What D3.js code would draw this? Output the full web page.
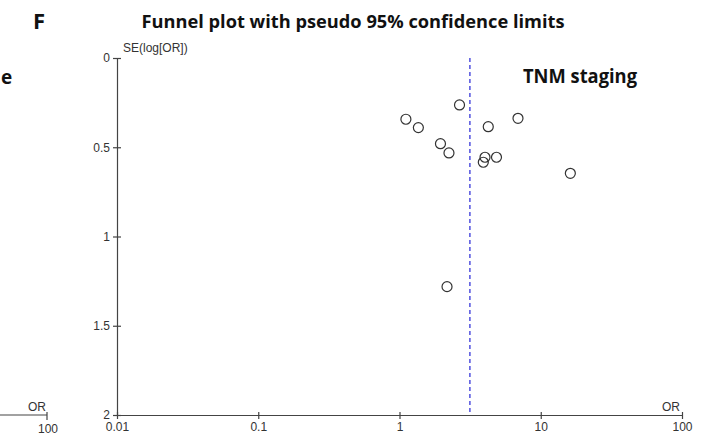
<!DOCTYPE html>
<html>
<head>
<meta charset="utf-8">
<script src="https://cdn.jsdelivr.net/npm/d3@7/dist/d3.min.js"></script>
<style>
  html, body { margin: 0; padding: 0; background: #fff; }
  svg { display: block; }
</style>
</head>
<body>
<div id="chart"></div>
<script>
// Study-level odds ratios and their standard errors of log(OR)
const studyOR = [1.11, 1.36, 2.66, 1.95, 2.24, 4.25, 6.90, 4.03, 4.86, 3.92, 16.2, 2.17];
const studySE = [0.343, 0.390, 0.263, 0.480, 0.532, 0.385, 0.338, 0.556, 0.556, 0.584, 0.646, 1.281];
// Pooled estimate drawn as the vertical reference line
const pooledOR = 3.15;
// Axis ticks
const xTicks = [0.01, 0.1, 1, 10, 100];
const yTicks = [0, 0.5, 1, 1.5, 2];
const xTickLabels = ["0.01", "0.1", "1", "10", "100"];
const yTickLabels = ["0", "0.5", "1", "1.5", "2"];

const W = 703, H = 439;
const svg = d3.select("#chart").append("svg").attr("width", W).attr("height", H);

const x = d3.scaleLog().domain([0.01, 100]).range([117, 682]);
const y = d3.scaleLinear().domain([0, 2]).range([58, 415]);

const axisColor = "#444";
const textColor = "#333";
const tickFont = "Liberation Sans, Arial, sans-serif";
const tickSize = 12;

// Panel letter and title
svg.append("text").attr("x", 33).attr("y", 29)
  .attr("font-family", "Open Sans, sans-serif").attr("font-weight", 700)
  .attr("font-size", 22).attr("fill", "#111").text("F");
svg.append("text").attr("x", 353).attr("y", 28).attr("text-anchor", "middle")
  .attr("font-family", "Open Sans, sans-serif").attr("font-weight", 700)
  .attr("font-size", 17).attr("fill", "#111")
  .attr("textLength", 423).attr("lengthAdjust", "spacingAndGlyphs")
  .text("Funnel plot with pseudo 95% confidence limits");

// Tail of the neighbouring panel on the left edge
svg.append("text").attr("x", 1).attr("y", 84)
  .attr("font-family", "Open Sans, sans-serif").attr("font-weight", 700)
  .attr("font-size", 19).attr("fill", "#111").text("e");
svg.append("line").attr("x1", 0).attr("x2", 47).attr("y1", 415).attr("y2", 415)
  .attr("stroke", axisColor).attr("stroke-width", 1.2);
svg.append("line").attr("x1", 47).attr("x2", 47).attr("y1", 412).attr("y2", 420)
  .attr("stroke", axisColor).attr("stroke-width", 1.2);
svg.append("text").attr("x", 46).attr("y", 411).attr("text-anchor", "end")
  .attr("font-family", tickFont).attr("font-size", tickSize).attr("fill", textColor).text("OR");
svg.append("text").attr("x", 48).attr("y", 433).attr("text-anchor", "middle")
  .attr("font-family", tickFont).attr("font-size", tickSize).attr("fill", textColor).text("100");

// Subgroup label
svg.append("text").attr("x", 523).attr("y", 83)
  .attr("font-family", "Open Sans, sans-serif").attr("font-weight", 700)
  .attr("font-size", 19).attr("fill", "#111")
  .attr("textLength", 114).attr("lengthAdjust", "spacingAndGlyphs")
  .text("TNM staging");

// Axes
const xAxis = d3.axisBottom(x).tickValues(xTicks)
  .tickFormat((d, i) => xTickLabels[i]).tickSizeInner(0).tickSizeOuter(0).tickPadding(7);
const gx = svg.append("g").attr("transform", `translate(0,${y(2)})`).call(xAxis);
gx.select(".domain").attr("stroke", axisColor).attr("stroke-width", 1.2);
gx.selectAll(".tick line").attr("y1", -3).attr("y2", 4).attr("stroke", axisColor).attr("stroke-width", 1.2);
gx.selectAll(".tick text").attr("font-family", tickFont).attr("font-size", tickSize).attr("fill", textColor);

const yAxis = d3.axisLeft(y).tickValues(yTicks)
  .tickFormat((d, i) => yTickLabels[i]).tickSizeInner(0).tickSizeOuter(0).tickPadding(7);
const gy = svg.append("g").attr("transform", `translate(${x(0.01)},0)`).call(yAxis);
gy.select(".domain").attr("stroke", axisColor).attr("stroke-width", 1.2);
gy.selectAll(".tick line").attr("x1", -4).attr("x2", 4).attr("stroke", axisColor).attr("stroke-width", 1.2);
gy.selectAll(".tick text").attr("font-family", tickFont).attr("font-size", tickSize).attr("fill", textColor);

// Axis titles
svg.append("text").attr("x", 123).attr("y", 52)
  .attr("font-family", tickFont).attr("font-size", tickSize).attr("fill", textColor).text("SE(log[OR])");
svg.append("text").attr("x", 680).attr("y", 411).attr("text-anchor", "end")
  .attr("font-family", tickFont).attr("font-size", tickSize).attr("fill", textColor).text("OR");

// Pooled estimate
svg.append("line")
  .attr("x1", x(pooledOR)).attr("x2", x(pooledOR))
  .attr("y1", y(0)).attr("y2", y(2))
  .attr("stroke", "#5b5be0").attr("stroke-width", 1.6)
  .attr("stroke-dasharray", "4,3");

// Study markers
const studies = studyOR.map((or, i) => ({ or, se: studySE[i] }));
svg.append("g").selectAll("circle").data(studies).join("circle")
  .attr("cx", d => x(d.or)).attr("cy", d => y(d.se)).attr("r", 5)
  .attr("fill", "none").attr("stroke", "#333").attr("stroke-width", 1.2);
</script>
</body>
</html>
